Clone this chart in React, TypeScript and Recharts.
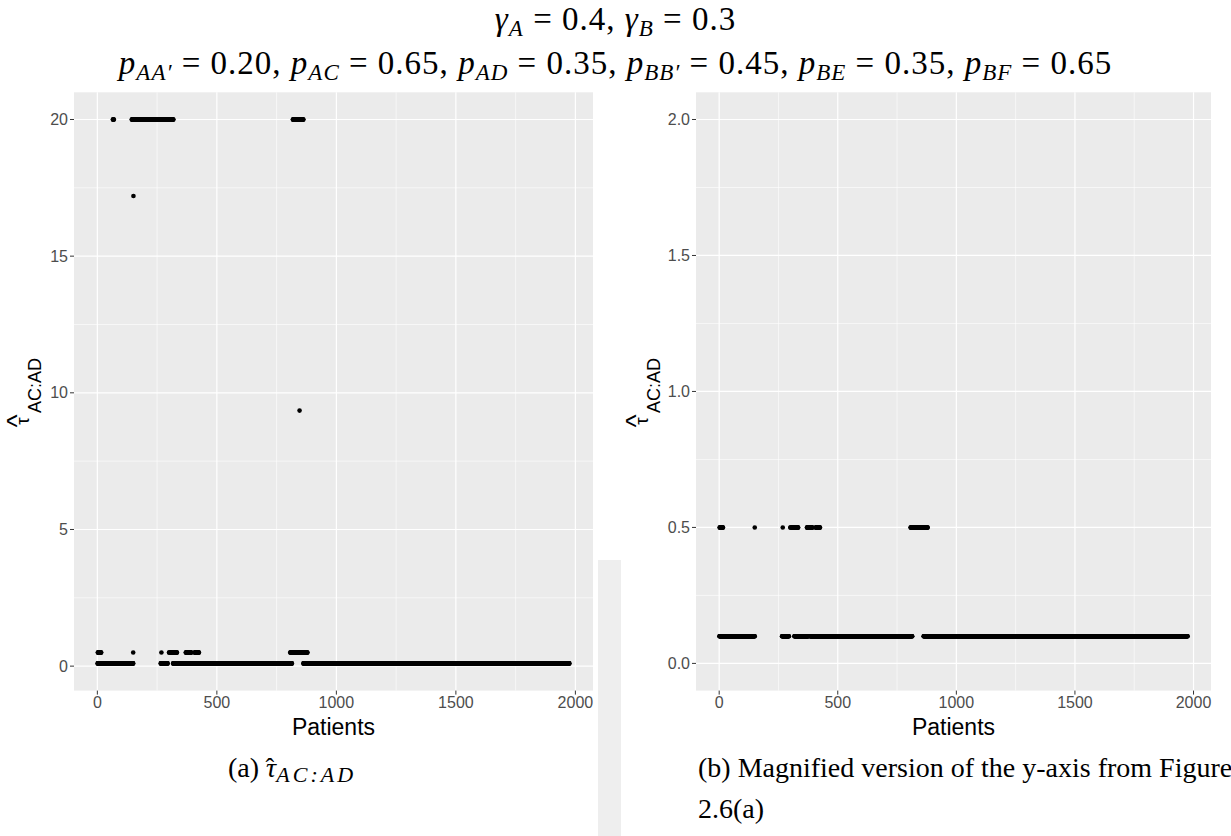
import React from 'react';
import { ScatterChart, Scatter, XAxis, YAxis, CartesianGrid } from 'recharts';

// ---------- data ----------
const PATIENT_TICKS = [0, 500, 1000, 1500, 2000];
const PATIENT_MINOR = [250, 750, 1250, 1750];
const TAU_TICKS_A = [0, 5, 10, 15, 20];
const TAU_MINOR_A = [2.5, 7.5, 12.5, 17.5];
const TAU_TICKS_B = [0, 0.5, 1, 1.5, 2];
const TAU_MINOR_B = [0.25, 0.75, 1.25, 1.75];
const TAU_LIMITS_B: [number, number] = [0, 2];

const FIRST_PATIENT = 1;
const LAST_PATIENT = 1975;

// runs of consecutive patients [first, last] that share the same estimate
const TAU_LOW = 0.1;
const RUNS_LOW: [number, number][] = [[1, 150], [265, 294], [317, 376], [383, 814], [862, 1975]];
const TAU_MID = 0.5;
const RUNS_MID: [number, number][] = [[2, 16], [150, 150], [268, 268], [300, 302], [308, 333], [370, 393], [407, 425], [807, 879]];
const TAU_HIGH = 20;
const RUNS_HIGH: [number, number][] = [[65, 69], [144, 318], [818, 862]];
const OUTLIER_PATIENTS = [151, 846];
const OUTLIER_TAUS = [17.2, 9.35];

type Pt = { patient: number; tau: number };
const expandRuns = (runs: [number, number][], tau: number): Pt[] =>
  runs.flatMap(([a, b]) => Array.from({ length: b - a + 1 }, (_, i) => ({ patient: a + i, tau })));

const POINTS_A: Pt[] = [
  ...expandRuns(RUNS_LOW, TAU_LOW),
  ...expandRuns(RUNS_MID, TAU_MID),
  ...expandRuns(RUNS_HIGH, TAU_HIGH),
  ...OUTLIER_PATIENTS.map((p, i) => ({ patient: p, tau: OUTLIER_TAUS[i] })),
];
const POINTS_B: Pt[] = POINTS_A.filter((p) => p.tau >= TAU_LIMITS_B[0] && p.tau <= TAU_LIMITS_B[1]);

// ggplot-style 5% expansion
const expandRange = (lo: number, hi: number): [number, number] => {
  const d = (hi - lo) * 0.05;
  return [lo - d, hi + d];
};
const X_DOMAIN = expandRange(FIRST_PATIENT, LAST_PATIENT);
const Y_DOMAIN_A = expandRange(TAU_LOW, TAU_HIGH);
const Y_DOMAIN_B = expandRange(TAU_LIMITS_B[0], TAU_LIMITS_B[1]);

// ---------- styling ----------
const SANS = '"Liberation Sans", Arial, sans-serif';
const SERIF = '"Liberation Serif", "Times New Roman", serif';
const TICK_STYLE = { fill: '#4D4D4D', fontSize: 16, fontFamily: SANS };

const Dot = (props: any) => <circle cx={props.cx} cy={props.cy} r={2.3} fill="#000000" />;

function Panel({ data, yDomain, yTicks, yMinor, fmt, width, margin }: any) {
  return (
    <ScatterChart width={width} height={720} margin={margin}>
      <CartesianGrid
        stroke="#FFFFFF"
        strokeWidth={0.6}
        fill="#EBEBEB"
        fillOpacity={1}
        horizontalValues={yMinor}
        verticalValues={PATIENT_MINOR}
      />
      <CartesianGrid stroke="#FFFFFF" strokeWidth={1.2} horizontalValues={yTicks} verticalValues={PATIENT_TICKS} />
      <XAxis
        type="number"
        dataKey="patient"
        domain={X_DOMAIN}
        ticks={PATIENT_TICKS}
        interval={0}
        allowDataOverflow
        axisLine={false}
        tickLine={{ stroke: '#333333', strokeWidth: 1 }}
        tickSize={4}
        tickMargin={2}
        height={20}
        tick={TICK_STYLE}
      />
      <YAxis
        type="number"
        dataKey="tau"
        domain={yDomain}
        ticks={yTicks}
        interval={0}
        allowDataOverflow
        axisLine={false}
        tickLine={{ stroke: '#333333', strokeWidth: 1 }}
        tickSize={4}
        tickMargin={2}
        width={40}
        tick={TICK_STYLE}
        tickFormatter={fmt}
      />
      <Scatter data={data} isAnimationActive={false} shape={Dot} />
    </ScatterChart>
  );
}

function YTitle({ bx, by }: { bx: number; by: number }) {
  return (
    <g transform={`translate(${bx},${by}) rotate(-90)`} fontFamily={SANS} fill="#000000">
      <text x={-28} y={-15} fontSize={28} textAnchor="middle">^</text>
      <text x={-28} y={-12.5} fontSize={19} textAnchor="middle">τ</text>
      <text x={-20} y={0} fontSize={18}>AC:AD</text>
    </g>
  );
}

function PItem({ sub, val, last }: { sub: string; val: string; last?: boolean }) {
  return (
    <>
      <tspan fontStyle="italic">p</tspan>
      <tspan fontStyle="italic" fontSize={23} dy={6}>{sub}</tspan>
      <tspan dy={-6}>{` = ${val}${last ? '' : ', '}`}</tspan>
    </>
  );
}

export default function App() {
  return (
    <div style={{ position: 'absolute', left: 0, top: 0, width: 1231, height: 836, background: '#FFFFFF', overflow: 'hidden' }}>
      <svg width={1231} height={836} style={{ position: 'absolute', left: 0, top: 0 }}>
        <rect x={598} y={560} width={23} height={276} fill="#EEEEEE" />
      </svg>
      <div style={{ position: 'absolute', left: 0, top: 0 }}>
        <Panel
          data={POINTS_A}
          yDomain={Y_DOMAIN_A}
          yTicks={TAU_TICKS_A}
          yMinor={TAU_MINOR_A}
          fmt={(v: number) => String(v)}
          width={600}
          margin={{ top: 92.3, right: 7, bottom: 9.4, left: 34 }}
        />
      </div>
      <div style={{ position: 'absolute', left: 600, top: 0 }}>
        <Panel
          data={POINTS_B}
          yDomain={Y_DOMAIN_B}
          yTicks={TAU_TICKS_B}
          yMinor={TAU_MINOR_B}
          fmt={(v: number) => v.toFixed(1)}
          width={631}
          margin={{ top: 92.3, right: 20, bottom: 9.4, left: 56 }}
        />
      </div>
      <svg width={1231} height={836} style={{ position: 'absolute', left: 0, top: 0, pointerEvents: 'none' }}>
        <g style={{ whiteSpace: 'pre' }} fill="#000000">
          <text x={615.5} y={30} textAnchor="middle" fontFamily={SERIF} fontSize={33} letterSpacing={1}>
            <tspan fontStyle="italic">γ</tspan>
            <tspan fontStyle="italic" fontSize={23} dy={6}>A</tspan>
            <tspan dy={-6}>{' = 0.4, '}</tspan>
            <tspan fontStyle="italic">γ</tspan>
            <tspan fontStyle="italic" fontSize={23} dy={6}>B</tspan>
            <tspan dy={-6}>{' = 0.3'}</tspan>
          </text>
          <text x={615.5} y={74} textAnchor="middle" fontFamily={SERIF} fontSize={33} letterSpacing={1}>
            <PItem sub="AA′" val="0.20" />
            <PItem sub="AC" val="0.65" />
            <PItem sub="AD" val="0.35" />
            <PItem sub="BB′" val="0.45" />
            <PItem sub="BE" val="0.35" />
            <PItem sub="BF" val="0.65" last />
          </text>

          <YTitle bx={41} by={393} />
          <YTitle bx={660} by={393} />

          <text x={333.5} y={735} textAnchor="middle" fontFamily={SANS} fontSize={23}>Patients</text>
          <text x={953.5} y={735} textAnchor="middle" fontFamily={SANS} fontSize={23}>Patients</text>

          <text x={228} y={777} fontFamily={SERIF} fontSize={28}>
            <tspan>{'(a) '}</tspan>
            <tspan fontStyle="italic">τ</tspan>
            <tspan dx={-10.5} dy={-1} fontSize={26}>ˆ</tspan>
            <tspan dx={2} dy={6} fontSize={22} fontStyle="italic" letterSpacing={3}>AC:AD</tspan>
          </text>
          <text x={698} y={777} fontFamily={SERIF} fontSize={28}>(b) Magnified version of the y-axis from Figure</text>
          <text x={698} y={818} fontFamily={SERIF} fontSize={28}>2.6(a)</text>
        </g>
      </svg>
    </div>
  );
}
